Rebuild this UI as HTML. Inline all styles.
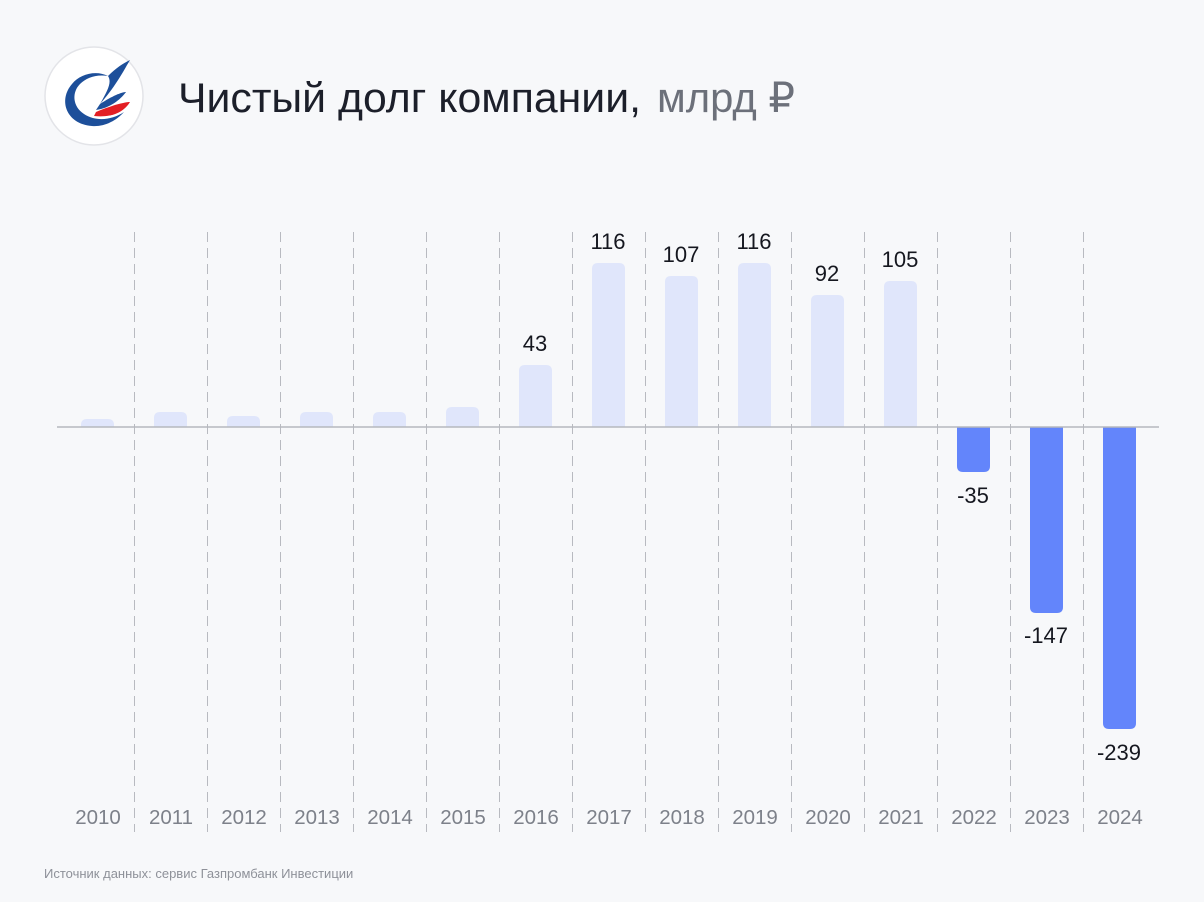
<!DOCTYPE html>
<html><head><meta charset="utf-8"><style>
html,body{margin:0;padding:0;background:#f7f8fa;}
svg{display:block;font-family:"Liberation Sans","DejaVu Sans",sans-serif;}
</style></head><body>
<svg width="1204" height="902" viewBox="0 0 1204 902" xmlns="http://www.w3.org/2000/svg">
<rect width="1204" height="902" fill="#f7f8fa"/>
<!-- logo -->
<circle cx="94" cy="96" r="49" fill="#fff" stroke="#e3e4e8" stroke-width="1.5"/>
<path d="M72 84 C58 100 66 124 92 126 C104 127 116 121 124 112 C112 120 96 122 84 114 C72 106 72 92 80 84 Z" fill="#1d4f9a"/>
<path d="M72 84 C80 74 96 70 108 76 C96 74 86 78 80 84 Z" fill="#1d4f9a"/>
<path d="M108 76 C118 66 126 62 130 60 C124 70 116 86 100 104 C108 90 112 82 108 76 Z" fill="#1d4f9a"/>
<path d="M100 104 C112 96 122 92 126 92 C120 100 110 108 96 110 Z" fill="#1d4f9a"/>
<path d="M96 112 C110 106 124 102 130 102 C124 112 112 118 94 116 Z" fill="#e31e24"/>
<text x="178" y="112" font-size="42" fill="#1c1f2a" textLength="463" lengthAdjust="spacingAndGlyphs">Чистый долг компании,</text>
<text x="657" y="112" font-size="42" fill="#6c707a" textLength="138" lengthAdjust="spacingAndGlyphs">млрд ₽</text>
<!-- dashed separators -->
<g stroke="#b8bac0" stroke-width="1" stroke-dasharray="10,6">
<line x1="134.5" y1="232" x2="134.5" y2="832"/><line x1="207.5" y1="232" x2="207.5" y2="832"/>
<line x1="280.5" y1="232" x2="280.5" y2="832"/><line x1="353.5" y1="232" x2="353.5" y2="832"/>
<line x1="426.5" y1="232" x2="426.5" y2="832"/><line x1="499.5" y1="232" x2="499.5" y2="832"/>
<line x1="572.5" y1="232" x2="572.5" y2="832"/><line x1="645.5" y1="232" x2="645.5" y2="832"/>
<line x1="718.5" y1="232" x2="718.5" y2="832"/><line x1="791.5" y1="232" x2="791.5" y2="832"/>
<line x1="864.5" y1="232" x2="864.5" y2="832"/><line x1="937.5" y1="232" x2="937.5" y2="832"/>
<line x1="1010.5" y1="232" x2="1010.5" y2="832"/><line x1="1083.5" y1="232" x2="1083.5" y2="832"/>
</g>
<!-- positive bars -->
<g fill="#e0e6fb">
<path d="M81 427 V425 Q81 419 87 419 H108 Q114 419 114 425 V427 Z"/>
<path d="M154 427 V418 Q154 412 160 412 H181 Q187 412 187 418 V427 Z"/>
<path d="M227 427 V422 Q227 416 233 416 H254 Q260 416 260 422 V427 Z"/>
<path d="M300 427 V418 Q300 412 306 412 H327 Q333 412 333 418 V427 Z"/>
<path d="M373 427 V418 Q373 412 379 412 H400 Q406 412 406 418 V427 Z"/>
<path d="M446 427 V413 Q446 407 452 407 H473 Q479 407 479 413 V427 Z"/>
<path d="M519 427 V371 Q519 365 525 365 H546 Q552 365 552 371 V427 Z"/>
<path d="M592 427 V269 Q592 263 598 263 H619 Q625 263 625 269 V427 Z"/>
<path d="M665 427 V282 Q665 276 671 276 H692 Q698 276 698 282 V427 Z"/>
<path d="M738 427 V269 Q738 263 744 263 H765 Q771 263 771 269 V427 Z"/>
<path d="M811 427 V301 Q811 295 817 295 H838 Q844 295 844 301 V427 Z"/>
<path d="M884 427 V287 Q884 281 890 281 H911 Q917 281 917 287 V427 Z"/>
</g>
<g fill="#6385fb">
<path d="M957 427 V466 Q957 472 963 472 H984 Q990 472 990 466 V427 Z"/>
<path d="M1030 427 V607 Q1030 613 1036 613 H1057 Q1063 613 1063 607 V427 Z"/>
<path d="M1103 427 V723 Q1103 729 1109 729 H1130 Q1136 729 1136 723 V427 Z"/>
</g>
<line x1="57" y1="427" x2="1159" y2="427" stroke="#b6b8be" stroke-width="1.5"/>
<!-- value labels -->
<g font-size="22" fill="#15171f" text-anchor="middle">
<text x="535" y="351">43</text>
<text x="608" y="249">116</text>
<text x="681" y="262">107</text>
<text x="754" y="249">116</text>
<text x="827" y="281">92</text>
<text x="900" y="267">105</text>
<text x="973" y="503">-35</text>
<text x="1046" y="643">-147</text>
<text x="1119" y="760">-239</text>
</g>
<!-- year labels -->
<g font-size="20.5" fill="#7d818a" text-anchor="middle">
<text x="98" y="824">2010</text><text x="171" y="824">2011</text><text x="244" y="824">2012</text>
<text x="317" y="824">2013</text><text x="390" y="824">2014</text><text x="463" y="824">2015</text>
<text x="536" y="824">2016</text><text x="609" y="824">2017</text><text x="682" y="824">2018</text>
<text x="755" y="824">2019</text><text x="828" y="824">2020</text><text x="901" y="824">2021</text>
<text x="974" y="824">2022</text><text x="1047" y="824">2023</text><text x="1120" y="824">2024</text>
</g>
<text x="44" y="878" font-size="13" fill="#8e9199">Источник данных: сервис Газпромбанк Инвестиции</text>
</svg>
</body></html>
